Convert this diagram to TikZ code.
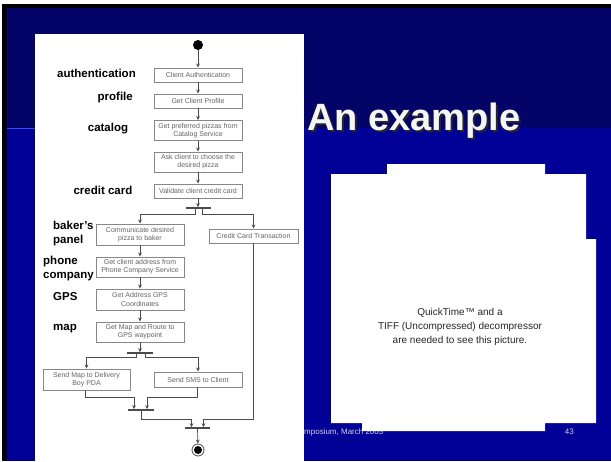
\documentclass[tikz,border=0pt]{standalone}
\usepackage{fontspec}
\setmainfont{Liberation Sans}
\usepackage{tikz}
\usetikzlibrary{arrows.meta}
\definecolor{bandtop}{RGB}{4,4,104}
\definecolor{slideblue}{RGB}{0,0,150}
\definecolor{rulelight}{RGB}{30,85,255}
\definecolor{boxline}{RGB}{135,135,135}
\definecolor{boxtext}{RGB}{100,100,100}
\definecolor{flowline}{RGB}{75,75,75}
\definecolor{footgray}{RGB}{210,210,220}

\begin{document}
\begin{tikzpicture}[x=1pt, y=-1pt,
    activity/.style={draw=boxline, line width=0.9pt, fill=white, text=boxtext, font=\fontsize{7}{8.3}\selectfont, align=center, minimum width=88pt, inner sep=1pt},
    onerow/.style={activity, minimum height=14pt},
    tworow/.style={activity, minimum height=20pt},
    bar/.style={fill=flowline, minimum height=1.2pt, inner sep=0pt},
    flow/.style={draw=flowline, line width=0.7pt, -{Stealth[length=4pt,width=3.6pt]}},
    role/.style={font=\fontsize{11.5}{14}\selectfont\bfseries, inner sep=0pt, align=left}]
    \useasboundingbox (0,0) rectangle (611,461);
    \fill[white] (0,0) rectangle (611,461);
    \fill[black] (1.5,4) rectangle (611,461);
    \fill[slideblue] (7,8) rectangle (611,461);
    \fill[bandtop] (7,8) rectangle (611,128);
    \draw[rulelight, line width=1.5pt] (7,128.5) -- (40,128.5);

    \node[anchor=base west, inner sep=0pt, font=\fontsize{38}{38}\selectfont\bfseries, text=black!85] (titleshadow) at (309,132) {An example};
    \node[anchor=base west, inner sep=0pt, font=\fontsize{38}{38}\selectfont\bfseries, text=gray!8] (title) at (307,130) {An example};
    \node[anchor=base west, inner sep=0pt, font=\fontsize{8}{8}\selectfont, text=footgray] (footer) at (304,434) {mposium, March 2005};
    \node[anchor=base east, inner sep=0pt, font=\fontsize{8}{8}\selectfont, text=footgray] (pagenum) at (574,434) {43};

    \fill[white] (35,34) rectangle (304,461);
    \fill[white] (387,164) -- (545,164) -- (545,174) -- (586,174) -- (586,239) -- (596,239) -- (596,423)
        -- (545,423) -- (545,431) -- (362,431) -- (362,423) -- (331,423) -- (331,174) -- (387,174) -- cycle;
    \node[align=center, font=\fontsize{10}{14}\selectfont, text=black!85] (qtnote) at (460,327) {QuickTime™ and a\\TIFF (Uncompressed) decompressor\\are needed to see this picture.};

    \node[circle, fill=black, minimum size=10pt, inner sep=0pt] (start) at (198,45) {};
    \node[onerow] (auth) at (198,75) {Client Authentication};
    \node[onerow] (profile) at (198,101) {Get Client Profile};
    \node[tworow] (catalog) at (198,130.5) {Get preferred pizzas from\\Catalog Service};
    \node[tworow] (choose) at (198,162) {Ask client to choose the\\desired pizza};
    \node[onerow] (validate) at (198,191) {Validate client credit card};
    \node[bar, minimum width=25pt] (fork) at (198,208) {};
    \node[tworow, minimum height=21pt] (baker) at (140,234.5) {Communicate desired\\pizza to baker};
    \node[onerow, minimum width=89pt] (transaction) at (253.5,236) {Credit Card Transaction};
    \node[tworow] (address) at (140,267) {Get client address from\\Phone Company Service};
    \node[tworow, minimum height=21pt] (coords) at (140,299.5) {Get Address GPS\\Coordinates};
    \node[tworow] (route) at (140,332) {Get Map and Route to\\GPS waypoint};
    \node[bar, minimum width=26pt] (split) at (140,353) {};
    \node[tworow, minimum height=21pt, minimum width=87pt] (delivery) at (86.5,379.5) {Send Map to Delivery\\Boy PDA};
    \node[onerow, minimum height=15pt] (sms) at (198,379.5) {Send SMS to Client};
    \node[bar, minimum width=26pt] (joinsend) at (141,410) {};
    \node[bar, minimum width=25pt] (joinall) at (197.5,428) {};
    \node[circle, draw=flowline, line width=0.8pt, minimum size=12pt, inner sep=0pt] (stop) at (198,450) {};
    \fill[black] (stop.center) circle [radius=4pt];

    \draw[flow] (start) -- (auth);
    \draw[flow] (auth) -- (profile);
    \draw[flow] (profile) -- (catalog);
    \draw[flow] (catalog) -- (choose);
    \draw[flow] (choose) -- (validate);
    \draw[flow] (validate) -- (fork);
    \draw[flow] ([xshift=-3pt]fork.south) -- ++(0,6) -| (baker.north);
    \draw[flow] ([xshift=4pt]fork.south) -- ++(0,6) -| (transaction.north);
    \draw[flow] (baker) -- (address);
    \draw[flow] (address) -- (coords);
    \draw[flow] (coords) -- (route);
    \draw[flow] (route) -- (split);
    \draw[flow] ([xshift=-4pt]split.south) -- ++(0,4) -| (delivery.north);
    \draw[flow] ([xshift=5pt]split.south) -- ++(0,4) -| (sms.north);
    \draw[flow] ([xshift=-1.5pt]delivery.south) -- ++(0,7) -| ([xshift=-7pt]joinsend.north);
    \draw[flow] ([xshift=-1pt]sms.south) -- ++(0,10) -| ([xshift=6pt]joinsend.north);
    \draw[flow] (joinsend.south) -- ++(0,8.5) -| ([xshift=-6pt]joinall.north);
    \draw[flow] (transaction.south) -- ++(0,176) -| ([xshift=6pt]joinall.north);
    \draw[flow] (joinall) -- (stop);

    \node[role, anchor=west] (lauth) at (57,73) {authentication};
    \node[role, anchor=east] (lprofile) at (133,98) {profile};
    \node[role] (lcatalog) at (108,129) {catalog};
    \node[role] (lcredit) at (103,190) {credit card};
    \node[role, anchor=west] (lbaker) at (53,234) {baker’s\\panel};
    \node[role, anchor=west] (lphone) at (43,269) {phone\\company};
    \node[role, anchor=west] (lgps) at (53,297) {GPS};
    \node[role, anchor=west] (lmap) at (53,329) {map};
\end{tikzpicture}
\end{document}
